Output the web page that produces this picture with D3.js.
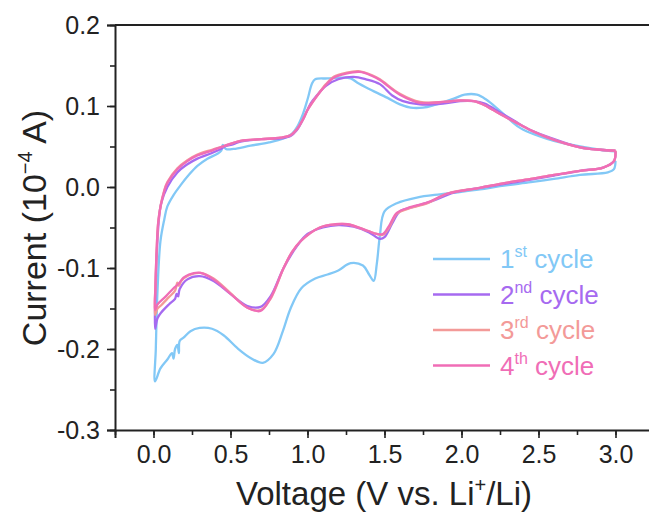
<!DOCTYPE html>
<html>
<head>
<meta charset="utf-8">
<script src="https://cdn.jsdelivr.net/npm/d3@7"></script>
<style>
  body { margin: 0; background: #fff; }
  svg { display: block; font-family: "Liberation Sans", Arial, Helvetica, sans-serif; }
</style>
</head>
<body>
<div id="chart"></div>
<script>
// cycle data: [voltage (V), current (1e-4 A)], scan order cathodic then anodic
const cycle1 = [
  [3.0,0.032],[2.99,0.022],[2.95,0.018],[2.77,0.015],[2.6,0.01],[2.45,0.006],[2.25,0.001],[2.12,-0.003],
  [1.95,-0.007],[1.86,-0.009],[1.71,-0.013],[1.58,-0.02],[1.5,-0.03],[1.47,-0.06],[1.45,-0.095],[1.43,-0.116],
  [1.40,-0.108],[1.36,-0.097],[1.28,-0.094],[1.2,-0.103],[1.13,-0.108],[1.05,-0.113],[0.96,-0.125],[0.89,-0.15],
  [0.84,-0.178],[0.78,-0.206],[0.71,-0.217],[0.63,-0.211],[0.545,-0.199],[0.455,-0.183],[0.38,-0.175],[0.3,-0.174],
  [0.24,-0.178],[0.195,-0.186],[0.17,-0.19],[0.165,-0.205],[0.155,-0.195],[0.14,-0.2],[0.13,-0.212],[0.12,-0.205],
  [0.09,-0.213],[0.045,-0.224],[0.01,-0.24],
  [0.015,-0.2],[0.026,-0.128],[0.045,-0.067],[0.07,-0.04],[0.09,-0.024],[0.13,-0.01],[0.175,0.002],[0.23,0.015],
  [0.285,0.026],[0.35,0.035],[0.415,0.041],[0.44,0.045],[0.45,0.052],[0.47,0.047],[0.52,0.047],[0.63,0.051],
  [0.75,0.055],[0.845,0.06],[0.9,0.066],[0.935,0.075],[0.97,0.09],[1.0,0.108],[1.03,0.128],[1.05,0.133],
  [1.13,0.134],[1.22,0.135],[1.28,0.134],[1.33,0.128],[1.39,0.122],[1.52,0.11],[1.6,0.102],[1.67,0.098],
  [1.75,0.098],[1.82,0.101],[1.95,0.109],[2.02,0.114],[2.1,0.114],[2.16,0.108],[2.25,0.094],[2.38,0.073],
  [2.5,0.063],[2.6,0.057],[2.77,0.05],[2.9,0.046],[3.0,0.044]
]
const cycle2 = [
  [3.0,0.044],[2.99,0.032],[2.92,0.024],[2.77,0.02],[2.6,0.014],[2.45,0.009],[2.25,0.003],[2.12,-0.001],
  [1.95,-0.007],[1.8,-0.018],[1.68,-0.025],[1.6,-0.03],[1.55,-0.045],[1.5,-0.062],[1.47,-0.064],[1.4,-0.056],
  [1.3,-0.049],[1.2,-0.047],[1.1,-0.05],[1.0,-0.058],[0.935,-0.072],[0.845,-0.1],[0.76,-0.135],[0.695,-0.148],
  [0.61,-0.147],[0.5,-0.132],[0.39,-0.116],[0.3,-0.11],[0.22,-0.114],[0.17,-0.126],[0.16,-0.135],[0.15,-0.132],
  [0.14,-0.138],[0.1,-0.145],[0.05,-0.155],[0.026,-0.162],[0.01,-0.175],
  [0.013,-0.13],[0.02,-0.088],[0.035,-0.04],[0.05,-0.02],[0.09,0.0],[0.155,0.018],[0.22,0.028],[0.285,0.035],
  [0.38,0.042],[0.448,0.048],[0.46,0.05],[0.52,0.053],[0.565,0.056],[0.7,0.059],[0.825,0.06],[0.89,0.063],
  [0.93,0.07],[0.975,0.085],[1.02,0.103],[1.06,0.113],[1.12,0.125],[1.2,0.133],[1.3,0.136],[1.38,0.133],
  [1.47,0.127],[1.55,0.113],[1.62,0.106],[1.73,0.102],[1.88,0.103],[1.99,0.106],[2.08,0.106],[2.15,0.103],
  [2.25,0.092],[2.34,0.082],[2.45,0.07],[2.56,0.062],[2.77,0.049],[2.9,0.046],[3.0,0.045]
]
const cycle3 = [
  [3.0,0.045],[2.99,0.032],[2.92,0.024],[2.77,0.02],[2.6,0.015],[2.45,0.01],[2.25,0.004],[2.12,-0.001],
  [1.91,-0.008],[1.78,-0.02],[1.65,-0.027],[1.58,-0.033],[1.53,-0.05],[1.49,-0.059],[1.45,-0.058],[1.39,-0.054],
  [1.26,-0.046],[1.18,-0.046],[1.08,-0.05],[0.955,-0.067],[0.9,-0.08],[0.845,-0.1],[0.76,-0.138],[0.695,-0.152],
  [0.61,-0.149],[0.5,-0.131],[0.39,-0.113],[0.305,-0.106],[0.23,-0.109],[0.18,-0.116],[0.165,-0.122],[0.155,-0.118],
  [0.14,-0.128],[0.1,-0.136],[0.05,-0.146],[0.026,-0.15],[0.01,-0.158],
  [0.013,-0.12],[0.02,-0.08],[0.03,-0.045],[0.045,-0.024],[0.07,-0.004],[0.09,0.006],[0.155,0.023],[0.22,0.033],
  [0.285,0.04],[0.38,0.046],[0.448,0.05],[0.565,0.057],[0.7,0.059],[0.825,0.061],[0.89,0.064],[0.93,0.071],
  [0.975,0.085],[1.0,0.095],[1.06,0.112],[1.12,0.127],[1.17,0.136],[1.25,0.141],[1.33,0.143],[1.42,0.138],
  [1.47,0.133],[1.6,0.115],[1.73,0.105],[1.88,0.105],[1.99,0.107],[2.08,0.106],[2.15,0.101],[2.25,0.09],
  [2.34,0.081],[2.45,0.07],[2.56,0.061],[2.77,0.049],[2.9,0.046],[3.0,0.045]
]
const cycle4 = [
  [3.0,0.044],[2.99,0.032],[2.92,0.024],[2.77,0.02],[2.6,0.015],[2.45,0.01],[2.25,0.004],[2.12,-0.001],
  [1.91,-0.008],[1.78,-0.019],[1.65,-0.026],[1.58,-0.032],[1.53,-0.048],[1.49,-0.058],[1.45,-0.058],[1.39,-0.054],
  [1.26,-0.046],[1.18,-0.046],[1.08,-0.05],[0.955,-0.067],[0.9,-0.08],[0.845,-0.1],[0.76,-0.137],[0.695,-0.153],
  [0.61,-0.149],[0.5,-0.132],[0.39,-0.114],[0.305,-0.106],[0.23,-0.108],[0.195,-0.112],[0.16,-0.12],[0.13,-0.125],
  [0.08,-0.135],[0.026,-0.145],[0.01,-0.152],
  [0.013,-0.12],[0.02,-0.08],[0.03,-0.045],[0.045,-0.025],[0.07,-0.005],[0.09,0.005],[0.155,0.022],[0.22,0.032],
  [0.285,0.039],[0.38,0.045],[0.448,0.05],[0.565,0.057],[0.7,0.059],[0.825,0.061],[0.89,0.064],[0.93,0.071],
  [0.975,0.085],[1.0,0.095],[1.06,0.112],[1.12,0.126],[1.17,0.135],[1.25,0.14],[1.34,0.142],[1.42,0.137],
  [1.47,0.132],[1.6,0.114],[1.73,0.104],[1.88,0.105],[1.99,0.107],[2.08,0.106],[2.15,0.101],[2.25,0.09],
  [2.34,0.081],[2.45,0.07],[2.56,0.061],[2.77,0.049],[2.9,0.046],[3.0,0.045]
]

const cycleNames = [["1","st"],["2","nd"],["3","rd"],["4","th"]]
const cycleColors = ["#82c8f6","#a66af0","#f39a98","#f06db6"]
const xTicks = [0.0,0.5,1.0,1.5,2.0,2.5,3.0]
const yTicks = [-0.3,-0.2,-0.1,0.0,0.1,0.2]

const width = 649, height = 517
const margin = {left: 115, top: 25, right: 654, bottom: 430}

const svg = d3.select("#chart")
    .append("svg")
    .attr("width", width)
    .attr("height", height)

const x = d3.scaleLinear().domain([-0.25, 3.25]).range([margin.left, margin.right])
const y = d3.scaleLinear().domain([-0.3, 0.2]).range([margin.bottom, margin.top])

//minor ticks
svg.append("g")
    .attr("transform", `translate(0,${margin.bottom})`)
    .call(d3.axisBottom(x).tickValues(d3.range(-0.25, 3.3, 0.25).map(d=>+d.toFixed(2))).tickSize(5).tickFormat(""))
    .call(g=>g.select(".domain").remove())
svg.append("g")
    .attr("transform", `translate(${margin.left},0)`)
    .call(d3.axisLeft(y).tickValues(d3.range(-0.3, 0.21, 0.05).map(d=>+d.toFixed(2))).tickSize(5).tickFormat(""))
    .call(g=>g.select(".domain").remove())

//major axes
const xAxis = svg.append("g")
    .attr("transform", `translate(0,${margin.bottom})`)
    .call(d3.axisBottom(x).tickValues(xTicks).tickSize(8).tickPadding(7).tickFormat(d3.format(".1f")))
const yAxis = svg.append("g")
    .attr("transform", `translate(${margin.left},0)`)
    .call(d3.axisLeft(y).tickValues(yTicks).tickSize(8).tickPadding(7).tickFormat(d3.format(".1f")))

svg.selectAll(".tick line").attr("stroke", "#222").attr("stroke-width", 1.6)
svg.selectAll(".domain").attr("stroke", "#222").attr("stroke-width", 2)
xAxis.selectAll("text").attr("font-size", 25).attr("fill", "#222").attr("font-family", "Liberation Sans, Arial, sans-serif")
yAxis.selectAll("text").attr("font-size", 25).attr("fill", "#222").attr("font-family", "Liberation Sans, Arial, sans-serif")
    .text(d=>d3.format(".1f")(d).replace("−","-"))

//top and right frame lines
svg.append("line")
    .attr("x1", margin.left).attr("x2", margin.right)
    .attr("y1", margin.top).attr("y2", margin.top)
    .attr("stroke", "#222").attr("stroke-width", 2)
svg.append("line")
    .attr("x1", margin.right).attr("x2", margin.right)
    .attr("y1", margin.top).attr("y2", margin.bottom)
    .attr("stroke", "#222").attr("stroke-width", 2)

const line = d3.line()
    .x(d=>x(d[0]))
    .y(d=>y(d[1]))
    .curve(d3.curveCatmullRom.alpha(0.5))

svg.append("g").selectAll("path")
    .data([cycle1, cycle2, cycle3, cycle4])
    .join("path")
    .attr("d", line)
    .attr("fill", "none")
    .attr("stroke", (d,i)=>cycleColors[i])
    .attr("stroke-width", 2.3)
    .attr("stroke-linejoin", "round")

//legend
const legend = svg.append("g").selectAll("g")
    .data(cycleNames)
    .join("g")
    .attr("transform", (d,i)=>`translate(433,${259 + i*35.5})`)

legend.append("line")
    .attr("x1", 0).attr("x2", 57)
    .attr("stroke", (d,i)=>cycleColors[i])
    .attr("stroke-width", 2.3)

const lt = legend.append("text")
    .attr("x", 67).attr("y", 9)
    .attr("font-size", 26)
    .attr("fill", (d,i)=>cycleColors[i])
lt.append("tspan").text(d=>d[0])
lt.append("tspan").attr("font-size", 16).attr("dy", -11).text(d=>d[1])
lt.append("tspan").attr("dy", 11).text(" cycle")

//axis titles
const xt = svg.append("text")
    .attr("x", 384).attr("y", 505)
    .attr("text-anchor", "middle")
    .attr("font-size", 33)
    .attr("fill", "#222")
xt.append("tspan").text("Voltage (V vs. Li")
xt.append("tspan").attr("font-size", 20).attr("dy", -13).text("+")
xt.append("tspan").attr("dy", 13).text("/Li)")

const yt = svg.append("text")
    .attr("transform", `translate(46,${228}) rotate(-90)`)
    .attr("text-anchor", "middle")
    .attr("font-size", 34)
    .attr("fill", "#222")
yt.append("tspan").text("Current (10")
yt.append("tspan").attr("font-size", 20).attr("dy", -14).text("−4")
yt.append("tspan").attr("dy", 14).text(" A)")
</script>
</body>
</html>
